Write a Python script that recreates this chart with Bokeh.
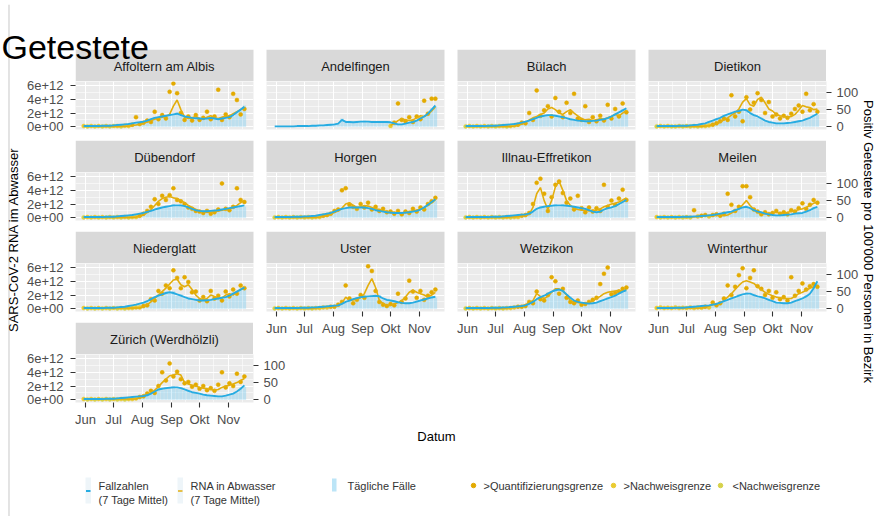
import numpy as np
import pandas as pd
from bokeh.plotting import figure
from bokeh.models import Range1d, LinearAxis, DatetimeAxis, FixedTicker, Grid, ColumnDataSource
from bokeh.core.properties import value
from bokeh.embed import file_html
from bokeh.resources import INLINE

# ------------------------------------------------------------------ data
SAMPLE_START = "2021-05-30"      # sampling grid of all series: every 4 days
SAMPLE_STEP = "4D"
N_SAMPLES = 44

MONTH_TICKS = ["2021-06-01", "2021-07-01", "2021-08-01", "2021-09-01", "2021-10-01", "2021-11-01"]
MONTH_LABELS = ["Jun", "Jul", "Aug", "Sep", "Okt", "Nov"]
MONTH_MINOR = ["2021-06-16", "2021-07-16", "2021-08-16", "2021-09-16", "2021-10-16", "2021-11-16"]
RNA_TICKS = [0.0, 2e12, 4e12, 6e12]
RNA_LABELS = ["0e+00", "2e+12", "4e+12", "6e+12"]
RNA_MINOR = [1e12, 3e12, 5e12]
CASE_TICKS = [0.0, 50.0, 100.0]
CASE_LABELS = ["0", "50", "100"]

DISTRICTS = ["Affoltern am Albis", "Andelfingen", "Bülach", "Dietikon",
             "Dübendorf", "Horgen", "Illnau-Effretikon", "Meilen",
             "Niederglatt", "Uster", "Wetzikon", "Winterthur",
             "Zürich (Werdhölzli)"]

LEGEND_LABELS = ["Fallzahlen", "(7 Tage Mittel)", "RNA in Abwasser", "(7 Tage Mittel)", "Tägliche Fälle",
                 ">Quantifizierungsgrenze", ">Nachweisgrenze", "<Nachweisgrenze"]

# RNA values in units of 1e12 copies; cases in positive tests per 100'000
RNA7_AFFOLTERN = [0.05,0.05,0.05,0.05,0.05,0.05,0.05,0.05,0.05,0.05, 0.05,0.05,0.1,0.15,0.25,0.35,0.5,0.7,0.9,1.1, 1.3,1.4,1.5,1.8,3.0,3.9,2.5,1.4,1.2,1.3, 1.5,1.2,1.1,1.4,1.6,1.3,1.2,1.4,1.5,1.6, 1.9,2.2,2.5,2.8]
PTS_AFFOLTERN = [0.1,0.05,0.1,0.05,0.1,0.05,0.1,0.05,0.1,0.1, 0.05,0.15,0.1,0.3,1.4,0.4,0.6,0.9,0.7,2.2, 1.1,1.7,1.2,5.1,6.3,4.9,2.0,1.0,1.5,0.9, 1.7,1.0,1.3,2.2,1.1,1.5,5.4,1.0,1.8,1.4, 4.8,3.9,1.8,2.6]
CASES7_AFFOLTERN = [2,2,2,2,2,3,3,3,4,5, 6,7,8,10,12,13,15,18,22,26, 28,30,32,34,36,38,34,30,28,26, 25,24,23,24,26,24,22,24,26,28, 34,42,50,58]
DAILY_AFFOLTERN = [1,3,2,1,3,2,4,3,3,6, 5,8,7,11,12,15,14,20,21,29, 25,33,30,38,34,42,31,33,24,28, 22,27,20,26,24,27,19,26,24,31, 30,45,47,62]

RNA7_ANDELFINGEN = [None,None,None,None,None,None,None,None,None,None, None,None,None,None,None,None,None,None,None,None, None,None,None,None,None,None,None,None,None,None, None,0.2,0.5,0.9,1.2,1.0,0.9,1.0,1.3,1.6, 1.5,1.8,2.3,2.9]
PTS_ANDELFINGEN = [None,None,None,None,None,None,None,None,None,None, None,None,None,None,None,None,None,None,None,None, None,None,None,None,None,None,None,None,None,None, None,0.1,0.6,3.4,1.0,0.8,1.4,0.7,1.5,1.1, 3.8,1.9,4.1,4.1]
CASES7_ANDELFINGEN = [1,1,1,1,1,1,2,2,2,2, 3,3,4,4,5,6,7,9,20,14, 14,13,14,15,15,15,14,14,14,14, 14,13,10,7,7,9,12,14,18,24, 30,38,50,62]
DAILY_ANDELFINGEN = [0,2,1,1,2,0,3,1,3,2, 4,2,5,3,6,5,9,8,24,12, 16,11,15,13,18,13,16,12,15,12, 17,11,12,6,8,8,14,12,20,22, 33,35,54,60]

RNA7_BUELACH = [0.05,0.05,0.05,0.05,0.05,0.05,0.05,0.05,0.05,0.05, 0.05,0.05,0.05,0.1,0.2,0.4,0.6,1.0,1.3,1.5, 1.8,2.0,2.6,2.8,2.5,2.0,1.8,2.2,2.5,2.0, 1.6,1.2,1.0,1.1,0.9,1.0,1.2,1.1,1.3,1.5, 1.8,1.6,2.0,2.4]
PTS_BUELACH = [0.05,0.1,0.05,0.1,0.05,0.1,0.05,0.1,0.05,0.1, 0.1,0.05,0.1,0.2,0.3,0.6,0.5,2.0,1.0,5.3, 1.6,2.4,3.0,1.5,4.2,2.2,1.4,3.5,2.0,4.8, 1.2,1.0,3.0,0.7,1.4,0.8,1.6,0.9,3.2,1.2, 2.6,1.5,3.4,2.1]
CASES7_BUELACH = [2,2,2,2,2,2,3,3,3,4, 5,6,7,8,10,12,15,18,22,26, 30,32,34,34,32,30,28,25,22,20, 18,17,16,16,17,18,20,22,25,30, 36,42,48,54]
DAILY_BUELACH = [1,3,2,1,3,2,4,2,4,3, 6,5,8,7,12,10,17,16,25,23, 33,29,37,31,35,27,31,22,25,18, 20,15,18,14,19,16,22,19,28,27, 39,38,52,50]

RNA7_DIETIKON = [0.05,0.05,0.05,0.05,0.05,0.05,0.05,0.05,0.05,0.05, 0.05,0.05,0.05,0.1,0.15,0.3,0.4,0.7,1.0,1.3, 1.7,2.0,2.6,3.6,4.1,3.2,3.0,4.0,4.3,3.5, 2.6,2.3,1.8,1.6,1.5,1.4,1.5,1.8,2.4,3.1, 2.9,2.8,2.5,2.6]
PTS_DIETIKON = [0.05,0.1,0.05,0.1,0.05,0.05,0.1,0.05,0.1,0.05, 0.1,0.05,0.1,0.1,0.2,0.3,0.5,0.8,1.2,1.0, 4.6,1.5,2.2,0.8,4.3,2.5,3.5,4.9,3.9,2.0, 3.6,1.5,1.8,1.2,1.6,1.3,1.9,2.6,3.1,2.2, 4.8,2.4,3.3,2.2]
CASES7_DIETIKON = [2,2,2,2,2,2,3,3,3,4, 5,6,8,10,14,18,22,26,32,36, 40,44,46,50,48,40,34,30,24,18, 14,12,10,10,10,11,12,14,16,18, 22,26,32,38]
DAILY_DIETIKON = [1,3,2,1,3,1,4,2,4,3, 6,5,9,8,16,15,25,22,36,32, 44,40,50,46,52,36,38,26,27,15, 16,10,12,8,12,9,14,12,18,15, 25,23,35,34]

RNA7_DUEBENDORF = [0.05,0.05,0.05,0.05,0.05,0.05,0.05,0.05,0.05,0.05, 0.05,0.05,0.05,0.05,0.1,0.2,0.4,0.8,1.2,1.8, 2.4,2.8,3.0,3.1,2.9,2.8,2.5,2.2,1.8,1.5, 1.2,1.0,0.9,0.8,0.8,0.9,1.0,1.1,1.2,1.3, 1.5,1.8,2.2,2.5]
PTS_DUEBENDORF = [0.05,0.1,0.05,0.1,0.05,0.1,0.05,0.1,0.05,0.1, 0.05,0.1,0.05,0.1,0.1,0.3,0.6,1.0,1.6,2.7, 2.0,3.2,2.6,3.3,4.3,2.6,2.4,2.0,1.5,1.3, 1.0,0.9,0.7,1.0,0.6,0.8,1.2,5.0,1.3,1.1, 1.6,4.3,2.6,2.3]
CASES7_DUEBENDORF = [2,2,2,2,2,2,3,3,3,4, 5,6,7,8,10,12,14,17,20,24, 27,30,32,34,36,36,36,34,30,26, 22,20,19,19,20,21,22,24,26,28, 30,32,34,36]
DAILY_DUEBENDORF = [1,3,2,1,3,1,4,2,4,3, 6,5,8,7,12,10,16,15,23,21, 30,27,35,30,40,33,39,31,33,23, 25,18,21,17,22,19,25,21,29,25, 33,29,37,33]

RNA7_HORGEN = [0.05,0.05,0.05,0.05,0.05,0.05,0.05,0.05,0.05,0.05, 0.05,0.05,0.1,0.2,0.3,0.5,0.8,1.0,1.4,2.0, 2.2,1.8,1.5,1.6,1.8,1.7,1.5,1.3,1.2,1.0, 0.9,0.8,0.8,0.7,0.7,0.8,0.9,1.0,1.1,1.3, 1.5,1.8,2.2,2.6]
PTS_HORGEN = [0.05,0.1,0.05,0.1,0.05,0.1,0.05,0.1,0.05,0.1, 0.05,0.1,0.1,0.3,0.4,0.6,1.0,1.2,4.0,4.3, 1.9,1.6,1.3,2.0,1.5,2.2,1.2,1.6,1.0,1.3, 0.8,0.9,0.6,1.0,0.5,0.9,0.7,1.3,0.9,1.5, 1.2,2.0,2.4,2.9]
CASES7_HORGEN = [2,2,2,2,2,3,3,3,4,4, 5,6,8,10,12,14,18,22,26,28, 30,30,30,30,30,28,26,22,20,18, 16,15,14,14,14,15,16,18,20,24, 30,38,46,54]
DAILY_HORGEN = [1,3,2,1,3,2,4,2,5,3, 6,5,9,8,14,12,20,19,29,25, 33,27,33,27,33,25,29,19,23,15, 18,13,16,12,16,13,18,15,22,21, 34,34,50,50]

RNA7_ILLNAU = [0.05,0.05,0.05,0.05,0.05,0.05,0.05,0.05,0.05,0.05, 0.05,0.05,0.1,0.15,0.2,0.25,0.3,0.5,1.5,3.5, 4.4,2.5,1.2,2.5,4.5,5.3,4.0,2.5,1.8,1.4, 1.2,1.1,1.1,1.0,1.1,1.1,1.3,1.6,1.8,2.0, 2.1,2.3,2.6,2.9]
PTS_ILLNAU = [0.05,0.1,0.05,0.1,0.05,0.1,0.05,0.1,0.05,0.1, 0.05,0.1,0.05,0.1,0.1,0.3,0.4,0.7,2.0,5.1, 5.7,3.5,1.0,3.0,4.8,5.3,3.6,2.2,2.8,1.2, 3.2,1.4,0.8,1.5,0.9,1.4,1.0,4.8,1.6,2.5, 1.9,2.8,4.1,2.6]
CASES7_ILLNAU = [2,2,2,2,2,2,2,3,3,3, 4,5,6,7,8,9,10,12,18,26, 30,32,34,35,36,36,36,35,34,32, 30,28,26,22,18,16,18,24,28,30, 34,40,46,52]
DAILY_ILLNAU = [1,3,2,1,3,1,3,2,4,2, 5,4,7,6,9,8,12,10,21,23, 33,29,38,31,40,33,40,31,38,28, 33,25,29,19,20,14,21,21,31,27, 38,36,50,48]

RNA7_MEILEN = [0.1,0.1,0.1,0.1,0.1,0.1,0.1,0.1,0.1,0.1, 0.1,0.2,0.3,0.3,0.3,0.3,0.4,0.4,0.3,0.4, 0.7,1.0,1.3,1.9,2.5,1.8,1.2,0.8,0.6,0.6, 0.6,0.7,0.8,0.7,0.6,0.8,0.9,1.0,1.2,1.3, 1.5,1.8,2.1,2.3]
PTS_MEILEN = [0.1,0.05,0.1,0.05,0.1,0.05,0.1,0.05,0.1,0.05, 1.1,0.2,0.3,0.4,0.2,0.4,0.5,0.3,0.6,3.5, 1.9,1.0,1.6,4.6,4.6,3.0,1.2,0.9,0.5,0.8, 0.5,0.7,1.0,0.6,0.8,0.5,1.1,0.9,1.4,2.1, 1.3,1.9,2.6,2.2]
CASES7_MEILEN = [2,2,2,2,2,2,2,3,3,3, 4,4,5,6,7,8,10,12,14,16, 18,22,26,30,32,28,22,18,16,12, 10,8,7,7,8,9,10,12,13,14, 18,22,28,32]
DAILY_MEILEN = [1,3,2,1,3,1,3,2,4,2, 5,3,6,5,8,7,12,10,16,14, 20,20,29,27,35,25,25,15,18,10, 12,6,8,6,9,8,12,10,15,12, 21,19,31,29]

RNA7_NIEDERGLATT = [0.1,0.1,0.1,0.1,0.1,0.1,0.1,0.1,0.1,0.1, 0.1,0.1,0.1,0.1,0.1,0.1,0.3,0.6,1.0,1.5, 2.0,2.5,3.0,3.6,4.2,4.3,3.5,3.2,3.5,2.8, 2.0,1.5,1.3,1.5,2.0,1.8,1.5,1.6,2.0,2.2, 2.0,2.5,2.8,3.0]
PTS_NIEDERGLATT = [0.1,0.05,0.1,0.05,0.1,0.05,0.1,0.05,0.1,0.05, 0.1,0.05,0.1,0.1,0.2,0.2,0.4,0.5,1.4,1.2, 2.6,2.2,3.4,3.0,5.6,4.5,3.0,4.6,3.9,2.4, 2.5,1.2,1.7,1.1,2.6,1.5,1.9,1.2,2.5,1.8, 2.8,2.2,3.4,3.0]
CASES7_NIEDERGLATT = [2,2,2,2,2,2,3,3,3,4, 5,6,8,10,12,15,18,22,28,34, 38,42,46,48,46,42,38,34,30,28, 26,24,24,25,26,28,30,32,34,38, 44,50,56,62]
DAILY_NIEDERGLATT = [1,3,2,1,3,1,4,2,4,3, 6,5,9,8,14,12,20,19,31,30, 42,38,50,44,52,38,42,30,33,25, 29,21,27,22,29,25,33,29,38,34, 48,45,60,58]

RNA7_USTER = [0.05,0.05,0.05,0.05,0.05,0.05,0.05,0.05,0.05,0.05, 0.05,0.1,0.15,0.2,0.25,0.3,0.4,0.5,0.8,1.7, 1.2,1.3,1.4,1.6,2.2,3.4,4.4,3.1,1.2,0.8, 0.5,0.5,0.7,0.9,1.2,1.7,2.4,2.7,2.4,2.2, 2.0,1.7,2.0,2.4]
PTS_USTER = [0.05,0.1,0.05,0.1,0.05,0.1,0.05,0.1,0.05,0.1, 0.05,0.1,0.1,0.2,0.2,0.3,0.3,0.6,1.0,3.4, 1.5,0.8,1.3,2.0,1.6,6.2,5.5,2.6,1.0,0.6, 0.4,0.7,0.5,2.2,1.0,1.5,4.1,2.5,1.6,2.6, 1.3,1.9,2.4,2.8]
CASES7_USTER = [2,2,2,2,2,2,2,3,3,3, 4,4,5,6,7,8,9,10,14,20, 24,28,31,34,35,36,37,38,36,30, 26,24,22,19,17,16,16,18,21,24, 27,30,33,35]
DAILY_USTER = [1,3,2,1,3,1,3,2,4,2, 5,3,6,5,8,7,10,8,16,17, 27,24,34,31,39,32,41,34,40,26, 29,21,25,16,19,14,18,16,24,21, 30,27,36,33]

RNA7_WETZIKON = [0.05,0.05,0.05,0.05,0.05,0.05,0.05,0.05,0.05,0.05, 0.05,0.1,0.15,0.2,0.3,0.4,0.6,0.9,1.2,2.2, 1.8,1.5,1.8,2.4,2.9,2.9,2.6,2.0,1.2,1.0, 0.9,0.8,0.8,0.9,1.1,1.5,1.8,2.2,2.4,2.5, 2.6,2.7,2.6,2.8]
PTS_WETZIKON = [0.05,0.1,0.05,0.1,0.05,0.1,0.05,0.1,0.05,0.1, 0.05,0.1,0.1,0.2,0.3,0.3,0.4,1.0,0.8,2.5, 1.4,1.2,2.0,4.6,4.0,2.2,2.9,1.6,1.0,0.8, 1.2,0.6,0.7,1.0,1.3,1.6,3.6,5.1,6.0,2.1, 2.3,2.5,2.9,3.1]
CASES7_WETZIKON = [2,2,2,2,2,2,2,3,3,3, 4,4,5,6,7,8,10,14,20,28, 34,38,44,50,54,56,52,42,32,24, 20,18,16,15,16,18,22,26,30,34, 38,44,50,54]
DAILY_WETZIKON = [1,3,2,1,3,1,3,2,4,2, 5,3,6,5,8,7,12,11,23,24, 38,34,48,45,59,50,57,37,35,21, 22,16,18,13,18,16,25,22,33,30, 42,39,55,50]

RNA7_WINTERTHUR = [0.1,0.1,0.1,0.1,0.1,0.1,0.1,0.1,0.1,0.1, 0.1,0.1,0.1,0.2,0.4,0.6,0.7,0.8,1.2,1.7, 2.2,2.8,3.4,3.9,4.1,3.9,3.7,3.2,2.8,2.4, 2.1,1.9,1.7,1.6,1.5,1.5,1.5,1.8,2.2,2.4, 2.7,3.0,3.2,3.4]
PTS_WINTERTHUR = [0.1,0.2,0.1,0.15,0.1,0.2,0.1,0.15,0.1,0.2, 0.1,0.2,0.15,0.3,0.2,0.9,0.5,0.8,1.5,3.4, 2.0,3.2,4.9,5.9,3.0,4.5,5.6,3.3,2.9,2.0, 2.6,1.6,2.4,1.4,1.7,1.2,4.6,1.9,2.6,3.7, 2.8,3.3,3.6,3.2]
CASES7_WINTERTHUR = [2,2,2,2,2,3,3,3,4,5, 6,7,8,9,10,12,14,18,22,26, 30,34,38,42,44,44,40,36,34,30, 26,22,18,17,16,16,18,22,26,30, 36,44,60,80]
DAILY_WINTERTHUR = [1,3,2,1,3,2,4,2,5,4, 7,6,9,8,11,11,16,15,25,22, 33,30,42,38,48,40,44,32,38,26, 29,19,20,15,18,14,20,19,29,27, 40,40,66,74]

RNA7_ZUERICH = [0.1,0.1,0.1,0.1,0.1,0.1,0.1,0.1,0.1,0.1, 0.1,0.1,0.1,0.1,0.1,0.3,0.6,0.8,1.0,1.4, 1.9,2.5,3.0,3.5,3.6,3.8,3.6,2.5,2.3,2.1, 2.0,1.8,1.7,1.6,1.5,1.4,1.5,1.8,2.0,2.1, 2.3,2.5,2.8,3.1]
PTS_ZUERICH = [0.1,0.05,0.1,0.05,0.1,0.05,0.1,0.05,0.1,0.05, 0.1,0.05,0.1,0.1,0.2,0.4,0.5,0.9,1.3,1.0, 2.0,4.0,2.8,5.3,3.4,4.1,3.0,2.4,2.6,1.9, 2.2,1.6,2.0,1.4,1.7,1.3,2.2,4.0,1.8,2.4, 2.0,3.8,2.6,3.4]
CASES7_ZUERICH = [2,2,2,2,2,2,3,3,3,4, 5,6,7,8,9,10,11,13,18,24, 30,32,34,35,36,36,34,30,26,22, 20,18,15,13,12,11,10,10,12,15, 18,24,32,42]
DAILY_ZUERICH = [1,3,2,1,3,1,4,2,4,3, 6,5,8,6,10,9,12,11,20,21, 33,28,37,31,40,32,37,27,29,19, 22,16,17,11,14,10,11,9,14,13, 20,21,35,38]

# detection limits (1e12 copies) used for the point categories
LIMIT_DETECTION = 0.08
LIMIT_QUANTIFICATION = 0.25

# ------------------------------------------------------------------ styling
FONT = "Liberation Sans"
GOLD = "#E3AE0E"
COL_QUANT = "#E3AA00"
COL_DETECT = "#EACB30"
COL_BELOW = "#D6D24A"
BLUE = "#27ACE2"
BAR = "#8FD4F2"
PANEL_BG = "#EBEBEB"
STRIP_BG = "#D9D9D9"

RNA_RANGE = (-0.4e12, 6.6e12)
RNA_PER_CASE = 5e10           # secondary axis: 100 per 100'000 == 5e12
X_START, X_END = "2021-05-21 06:00", "2021-11-27 18:00"

FW, FH, SH = 178, 48, 32      # panel size, strip height
BL, BR, BT, BB = 62, 44, 8, 30


def ms(s):
    return pd.Timestamp(s).value / 1e6


def arr(v):
    return np.array([np.nan if x is None else x for x in v], dtype=float)


SERIES = {
    "Affoltern am Albis": (RNA7_AFFOLTERN, PTS_AFFOLTERN, CASES7_AFFOLTERN, DAILY_AFFOLTERN),
    "Andelfingen": (RNA7_ANDELFINGEN, PTS_ANDELFINGEN, CASES7_ANDELFINGEN, DAILY_ANDELFINGEN),
    "Bülach": (RNA7_BUELACH, PTS_BUELACH, CASES7_BUELACH, DAILY_BUELACH),
    "Dietikon": (RNA7_DIETIKON, PTS_DIETIKON, CASES7_DIETIKON, DAILY_DIETIKON),
    "Dübendorf": (RNA7_DUEBENDORF, PTS_DUEBENDORF, CASES7_DUEBENDORF, DAILY_DUEBENDORF),
    "Horgen": (RNA7_HORGEN, PTS_HORGEN, CASES7_HORGEN, DAILY_HORGEN),
    "Illnau-Effretikon": (RNA7_ILLNAU, PTS_ILLNAU, CASES7_ILLNAU, DAILY_ILLNAU),
    "Meilen": (RNA7_MEILEN, PTS_MEILEN, CASES7_MEILEN, DAILY_MEILEN),
    "Niederglatt": (RNA7_NIEDERGLATT, PTS_NIEDERGLATT, CASES7_NIEDERGLATT, DAILY_NIEDERGLATT),
    "Uster": (RNA7_USTER, PTS_USTER, CASES7_USTER, DAILY_USTER),
    "Wetzikon": (RNA7_WETZIKON, PTS_WETZIKON, CASES7_WETZIKON, DAILY_WETZIKON),
    "Winterthur": (RNA7_WINTERTHUR, PTS_WINTERTHUR, CASES7_WINTERTHUR, DAILY_WINTERTHUR),
    "Zürich (Werdhölzli)": (RNA7_ZUERICH, PTS_ZUERICH, CASES7_ZUERICH, DAILY_ZUERICH),
}
bad = [(k, [len(x) for x in v]) for k, v in SERIES.items() if any(len(x) != N_SAMPLES for x in v)]
assert not bad, bad

DATES = pd.date_range(SAMPLE_START, periods=N_SAMPLES, freq=SAMPLE_STEP)
DATES_MS = np.array([d.value / 1e6 for d in DATES])
STEP_MS = pd.Timedelta(SAMPLE_STEP).value / 1e6
MONTH_MS = [ms(s) for s in MONTH_TICKS]
MINOR_MS = [ms(s) for s in MONTH_MINOR]


def place(fig, left, top):
    # absolute position in page pixels
    fig.styles = {"position": "absolute", "left": f"{left}px", "top": f"{top}px"}


def page_fig(left, top, w, h):
    """A transparent figure whose ranges are the page pixels it covers."""
    f = figure(width=w, height=h, x_range=Range1d(left, left + w), y_range=Range1d(top + h, top),
               x_axis_type=None, y_axis_type=None, output_backend="svg", toolbar_location=None,
               min_border_left=0, min_border_right=0, min_border_top=0, min_border_bottom=0)
    f.background_fill_color = None
    f.border_fill_color = None
    f.outline_line_color = None
    place(f, left, top)
    return f


def style_axis(ax, standoff):
    ax.axis_line_color = None
    ax.major_tick_line_color = "#333333"
    ax.major_tick_line_width = 1.1
    ax.major_tick_in = 0
    ax.major_tick_out = 5
    ax.minor_tick_line_color = None
    ax.major_label_text_font = FONT
    ax.major_label_text_font_size = "13px"
    ax.major_label_text_color = "#4D4D4D"
    ax.major_label_standoff = standoff


def make_panel(name, fx, fy, left_axis, right_axis, bottom_axis):
    p = figure(width=BL + FW + BR, height=BT + FH + BB,
               x_axis_type=None, y_axis_type=None,
               x_range=Range1d(ms(X_START), ms(X_END)),
               y_range=Range1d(*RNA_RANGE),
               output_backend="svg", toolbar_location=None,
               min_border_left=BL, min_border_right=BR,
               min_border_top=BT, min_border_bottom=BB)
    p.extra_y_ranges = {"cases": Range1d(RNA_RANGE[0] / RNA_PER_CASE, RNA_RANGE[1] / RNA_PER_CASE)}
    p.background_fill_color = PANEL_BG
    p.border_fill_color = None
    p.outline_line_color = None
    p.add_layout(Grid(dimension=0, ticker=FixedTicker(ticks=MONTH_MS, minor_ticks=MINOR_MS),
                      grid_line_color="white", grid_line_width=1.1,
                      minor_grid_line_color="white", minor_grid_line_width=0.55))
    p.add_layout(Grid(dimension=1, ticker=FixedTicker(ticks=RNA_TICKS, minor_ticks=RNA_MINOR),
                      grid_line_color="white", grid_line_width=1.1,
                      minor_grid_line_color="white", minor_grid_line_width=0.55))

    rna7, pts, cases7, daily = (arr(v) for v in SERIES[name])
    p.vbar(x=DATES_MS, top=daily, bottom=0, width=STEP_MS * 0.92, y_range_name="cases",
           fill_color=BAR, fill_alpha=0.5, line_color=None)
    cats = np.where(pts < LIMIT_DETECTION, COL_BELOW,
                    np.where(pts < LIMIT_QUANTIFICATION, COL_DETECT, COL_QUANT))
    ok = ~np.isnan(pts)
    src = ColumnDataSource(dict(x=DATES_MS[ok], y=pts[ok] * 1e12, c=cats[ok]))
    p.scatter("x", "y", source=src, size=4.0, fill_color="c", line_color="c", line_width=0.5)
    p.line(DATES_MS, rna7 * 1e12, line_color=GOLD, line_width=1.6)
    p.line(DATES_MS, cases7, y_range_name="cases", line_color=BLUE, line_width=1.9)

    if left_axis:
        ax = LinearAxis(ticker=FixedTicker(ticks=RNA_TICKS),
                        major_label_overrides=dict(zip(RNA_TICKS, RNA_LABELS)))
        style_axis(ax, 7)
        p.add_layout(ax, "left")
    if right_axis:
        ax = LinearAxis(y_range_name="cases", ticker=FixedTicker(ticks=CASE_TICKS),
                        major_label_overrides=dict(zip(CASE_TICKS, CASE_LABELS)))
        style_axis(ax, 5)
        p.add_layout(ax, "right")
    if bottom_axis:
        ax = DatetimeAxis(ticker=FixedTicker(ticks=MONTH_MS),
                          major_label_overrides=dict(zip(MONTH_MS, MONTH_LABELS)))
        style_axis(ax, 4)
        p.add_layout(ax, "below")
    place(p, fx - BL, fy - BT)
    return p


children = []
strip_rows = {}
for i, name in enumerate(DISTRICTS):
    col, row = i % 4, i // 4
    fx, fy = 75 + 191 * col, 81 + 91 * row
    last_in_row = (col == 3) or (i == len(DISTRICTS) - 1)
    bottom = (row == 3) or (row == 2 and col >= 1)
    children.append(make_panel(name, fx, fy, col == 0, last_in_row, bottom))
    strip_rows.setdefault(row, []).append((name, fx, fy - SH))

# facet strips, one figure per row
for row, items in strip_rows.items():
    left, top = items[0][1], items[0][2]
    width = items[-1][1] + FW - left
    s = page_fig(left, top, width, SH)
    s.quad(left=[it[1] for it in items], right=[it[1] + FW for it in items],
           top=[top] * len(items), bottom=[top + SH] * len(items),
           fill_color=STRIP_BG, line_color=None)
    s.text(x=[it[1] + FW / 2 for it in items], y=[top + SH / 2 + 1] * len(items),
           text=[it[0] for it in items], text_font=value(FONT), text_font_size="13px",
           text_color="#1A1A1A", text_align="center", text_baseline="middle")
    children.append(s)

# screenshot frame lines
ft = page_fig(8, 4, 872, 3)
ft.segment(x0=[8], y0=[5.5], x1=[880], y1=[5.5], line_color="#D5D5D5", line_width=1.3)
fl = page_fig(7, 4, 3, 512)
fl.segment(x0=[8.5], y0=[4], x1=[8.5], y1=[516], line_color="#D5D5D5", line_width=1.3)
children += [ft, fl]

# big leftover word at the top left
g = page_fig(0, 12, 176, 66)
g.text(x=[1], y=[46], text=["Getestete"], text_font=value(FONT), text_font_size="34px",
       text_color="#000000", text_align="left", text_baseline="middle")
children.append(g)

# axis titles
lt = page_fig(2, 120, 22, 240)
lt.text(x=[13], y=[239], text=["SARS-CoV-2 RNA im Abwasser"], angle=np.pi / 2,
        text_font=value(FONT), text_font_size="13px", text_color="#000000",
        text_align="center", text_baseline="middle")
rt = page_fig(856, 80, 24, 330)
rt.text(x=[868], y=[241], text=["Positiv Getestete pro 100'000 Personen in Bezirk"], angle=-np.pi / 2,
        text_font=value(FONT), text_font_size="13px", text_color="#000000",
        text_align="center", text_baseline="middle")
children += [lt, rt]

# x title and legend
lg = page_fig(70, 424, 780, 86)
lg.text(x=[436], y=[436], text=["Datum"], text_font=value(FONT), text_font_size="13px",
        text_color="#000000", text_align="center", text_baseline="middle")
lg.quad(left=[85, 177], right=[90.5, 182.5], top=[477, 477], bottom=[503, 503],
        fill_color="#EEF5F9", line_color=None)
lg.segment(x0=[85.5], y0=[490.5], x1=[90], y1=[490.5], line_color=BLUE, line_width=1.9)
lg.segment(x0=[177.5], y0=[490.5], x1=[182], y1=[490.5], line_color=GOLD, line_width=1.7)
lg.quad(left=[331.5], right=[336], top=[478], bottom=[491], fill_color=BAR, fill_alpha=0.6, line_color=None)
lg.scatter(x=[473, 613, 720], y=[485, 485, 485], size=4.5,
           fill_color=[COL_QUANT, COL_DETECT, COL_BELOW], line_color=[COL_QUANT, COL_DETECT, COL_BELOW])
lg.text(x=[98, 98, 190, 190, 347, 483, 623, 732], y=[485, 499, 485, 499, 485, 485, 485, 485],
        text=LEGEND_LABELS, text_font=value(FONT), text_font_size="11px", text_color="#333333",
        text_align="left", text_baseline="middle")
children.append(lg)

# every figure is its own root (absolutely positioned), so no frame alignment between them
p = children
open("out.html", "w").write(file_html(p, INLINE))
